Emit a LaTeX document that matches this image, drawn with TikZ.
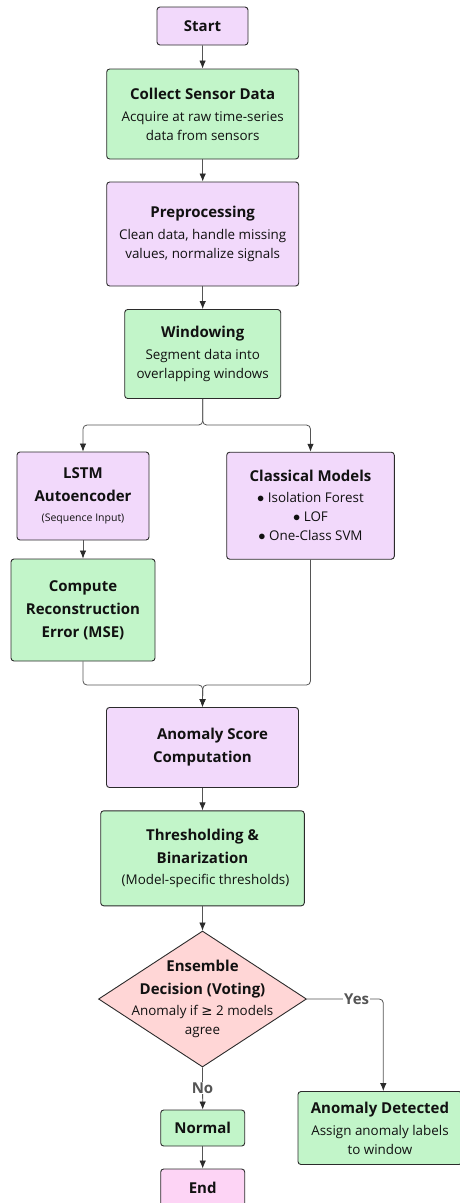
\documentclass[tikz,border=0pt]{standalone}
\usepackage{fontspec}
\setmainfont{Open Sans}
\newfontfamily\symfont{DejaVu Sans}
\usetikzlibrary{shapes.geometric,arrows.meta}

\definecolor{purpfill}{HTML}{F2D9FB}
\definecolor{grnfill}{HTML}{C2F5C9}
\definecolor{pinkfill}{HTML}{FFD6D6}
\definecolor{endfill}{HTML}{FDD4F5}
\definecolor{edgeC}{HTML}{2B2B2B}
\definecolor{lineC}{HTML}{555555}
\definecolor{txtC}{HTML}{111111}

\newcommand\ttl{\fontsize{15}{23}\selectfont\bfseries}
\newcommand\bdy{\fontsize{13.4}{19}\selectfont\mdseries}
\newcommand\sml{\fontsize{10.5}{20}\selectfont\mdseries}

\tikzset{
  box/.style={draw=edgeC, line width=0.9pt, rounded corners=3pt, align=center,
    inner sep=0pt, text=txtC, font=\bdy},
  purp/.style={box, fill=purpfill},
  grn/.style={box, fill=grnfill},
  conn/.style={draw=lineC, line width=0.8pt, rounded corners=4pt,
    -{Latex[length=8pt,width=6.5pt,color=edgeC]}},
  lbl/.style={font=\ttl, text=lineC, fill=white, inner sep=1pt}
}

\begin{document}
\begin{tikzpicture}[x=1pt,y=-1pt]
  \useasboundingbox (0,0) rectangle (459,1203);

  % process steps
  \node[purp, minimum width=91pt, minimum height=38pt] (start) at (202.5,26) {\ttl Start};
  \node[grn, minimum width=192pt, minimum height=90pt] (collect) at (202.7,114)
    {\ttl Collect Sensor Data\\[3pt]\bdy Acquire at raw time-series\\\bdy data from sensors};
  \node[purp, minimum width=192pt, minimum height=104pt] (pre) at (202.7,234)
    {\ttl Preprocessing\\[3pt]\bdy Clean data, handle missing\\\bdy values, normalize signals};
  \node[grn, minimum width=156pt, minimum height=89pt] (win) at (202.7,354)
    {\ttl Windowing\\[3pt]\bdy Segment data into\\\bdy overlapping windows};

  % two model branches
  \node[purp, font=\ttl, minimum width=132pt, minimum height=88pt] (lstm) at (83,496)
    {\ttl LSTM\\\ttl Autoencoder\\[-3pt]\sml (Sequence Input)};
  \node[purp, minimum width=167.6pt, minimum height=107pt] (cls) at (310.5,505.7)
    {\ttl Classical Models\\[2pt]\bdy $\bullet$ Isolation Forest\\\bdy $\bullet$ LOF\\\bdy $\bullet$ One-Class SVM};
  \node[grn, font=\ttl, minimum width=144pt, minimum height=102pt] (cmp) at (83,610)
    {\ttl Compute\\\ttl Reconstruction\\\ttl Error (MSE)};

  % scoring and decision
  \node[purp, font=\ttl, minimum width=192pt, minimum height=80pt] (score) at (202.5,747.5)
    {\ttl \hspace*{20pt}Anomaly Score\\\ttl Computation};
  \node[grn, font=\ttl, minimum width=203.6pt, minimum height=95pt] (thr) at (202.5,858.3)
    {\ttl Thresholding \&\\\ttl Binarization\\[-2pt]\bdy \hspace*{6pt}(Model-specific thresholds)};
  \node[diamond, draw=edgeC, line width=0.9pt, fill=pinkfill, inner sep=0pt,
    minimum width=208pt, minimum height=136pt,
    label={[align=center, text=txtC, font=\bdy]center:{\ttl Ensemble\\[4pt]\ttl Decision (Voting)\\[2pt]\bdy Anomaly if {\symfont ≥} 2 models\\\bdy agree}}]
    (dec) at (202.5,999) {};

  % outcomes
  \node[grn, minimum width=164pt, minimum height=73pt] (ad) at (380,1128)
    {\ttl Anomaly Detected\\[3pt]\bdy Assign anomaly labels\\\bdy to window};
  \node[grn, minimum width=84pt, minimum height=36pt] (nrm) at (202.7,1128) {\ttl Normal};
  \node[box, fill=endfill, minimum width=84pt, minimum height=38pt] (end) at (202.7,1188) {\ttl End};

  % junction points
  \coordinate (split) at (202.7,425);
  \coordinate (merge) at (202.7,685);
  \coordinate (ycorner) at (383.3,999);

  % connectors
  \draw[conn] (start) -- (collect);
  \draw[conn] (collect) -- (pre);
  \draw[conn] (pre) -- (win);
  \draw[conn] (win.south) -- (split) -| (lstm.north);
  \draw[conn] (win.south) -- (split) -| (cls.north);
  \draw[conn] (lstm) -- (cmp);
  \draw[conn] (cmp.south) |- (merge) -- (score.north);
  \draw[conn] (cls.south) |- (merge) -- (score.north);
  \draw[conn] (score) -- (thr);
  \draw[conn] (thr) -- (dec.north);
  \draw[conn] (dec.east) -- (ycorner) -- (ycorner |- ad.north);
  \node[lbl] (yes) at (356.7,999) {Yes};
  \draw[conn] (dec.south) -- (nrm.north);
  \node[lbl] (no) at (202.5,1088) {No};
  \draw[conn] (nrm) -- (end);
\end{tikzpicture}
\end{document}
